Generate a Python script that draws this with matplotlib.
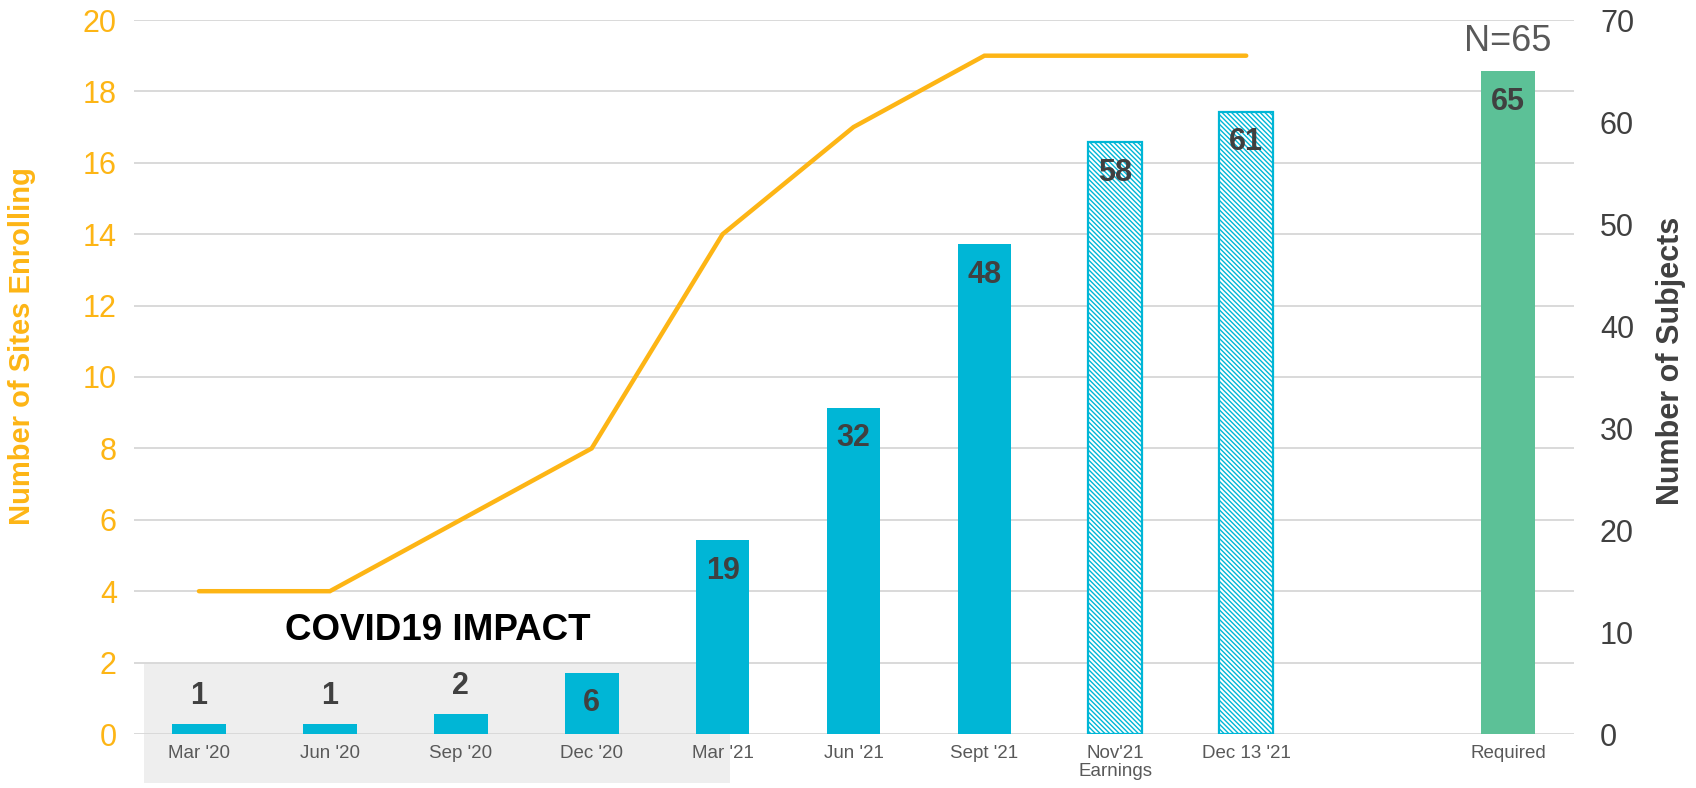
import numpy as np
import matplotlib
matplotlib.use("Agg")
import matplotlib.pyplot as plt
from matplotlib.patches import Rectangle

plt.rcParams['font.family'] = ['Liberation Sans', 'DejaVu Sans']
plt.rcParams['hatch.linewidth'] = 1.0

labels = ["Mar '20", "Jun '20", "Sep '20", "Dec '20", "Mar '21", "Jun '21",
          "Sept '21", "Nov'21\nEarnings", "Dec 13 '21", "", "Required"]
sites = [4, 4, 6, 8, 14, 17, 19, 19, 19]
subjects = [1, 1, 2, 6, 19, 32, 48, 58, 61, None, 65]
bar_kind = ["solid"] * 7 + ["hatch", "hatch", None, "required"]

orange = "#FDB515"
blue = "#00B6D6"
green = "#5CC197"
dark = "#404040"

fig = plt.figure(figsize=(16.96, 7.88), dpi=100)
ax = fig.add_axes([133.5 / 1696, 1 - 734 / 788, 1440 / 1696, 714 / 788])
ax2 = ax.twinx()

x = np.arange(len(labels))

# covid shaded block
ax.add_patch(Rectangle((-0.42, -1.37), 4.477, 3.37, facecolor="#EEEEEE",
                       edgecolor="none", zorder=0.5, clip_on=False))
ax.text(1.826, 2.91, "COVID19 IMPACT", ha="center", va="center",
        fontsize=26.5, fontweight="bold", color="black")

ax.plot(x[:len(sites)], sites, color=orange, lw=3.2, solid_capstyle="round",
        solid_joinstyle="miter", zorder=3)

ax.set_xlim(-0.5, len(labels) - 0.5)
ax.set_ylim(0, 20)
ax.set_yticks(np.arange(0, 21, 2))
ax.grid(axis="y", color="#D9D9D9", lw=1.4)
ax.set_axisbelow(True)
ax.set_xticks(x)
ax.set_xticklabels(labels, fontsize=13.5, color="#595959", linespacing=1.05)
ax.tick_params(axis="both", length=0)
ax.tick_params(axis="x", pad=8)
ax.tick_params(axis="y", labelsize=22, labelcolor=orange, pad=12)
ax.set_ylabel("Number of Sites Enrolling", color=orange, fontsize=21,
              fontweight="bold", va="center")
ax.yaxis.set_label_coords(-0.0774, 0.543)
for s in ax.spines.values():
    s.set_visible(False)

for xi, val, kind in zip(x, subjects, bar_kind):
    if val is None:
        continue
    if kind == "solid":
        ax2.bar(xi, val, width=0.41, color=blue, zorder=2)
    elif kind == "hatch":
        ax2.bar(xi, val, width=0.41, facecolor="white", edgecolor=blue,
                hatch="\\" * 7, lw=1.6, zorder=2)
    else:
        ax2.bar(xi, val, width=0.41, color=green, zorder=2)
    if val < 5:
        ax2.annotate(str(val), (xi, val), xytext=(0, 20), textcoords="offset points",
                     ha="center", va="center", fontsize=22, fontweight="bold", color=dark)
    else:
        ax2.annotate(str(val), (xi, val), xytext=(0, -22), textcoords="offset points",
                     ha="center", va="center", fontsize=22, fontweight="bold", color=dark)

ax2.annotate("N=65", (x[-1], 65), xytext=(0, 21), textcoords="offset points",
             ha="center", va="center", fontsize=26, color="#595959")

ax2.set_ylim(0, 70)
ax2.set_yticks(np.arange(0, 71, 10))
ax2.tick_params(axis="y", length=0, labelsize=22, labelcolor=dark, pad=19)
ax2.set_ylabel("Number of Subjects", color=dark, fontsize=22, fontweight="bold",
               va="center")
ax2.yaxis.set_label_coords(1.0677, 0.522)
for s in ax2.spines.values():
    s.set_visible(False)

fig.savefig("out.png", dpi=100, facecolor="white")
